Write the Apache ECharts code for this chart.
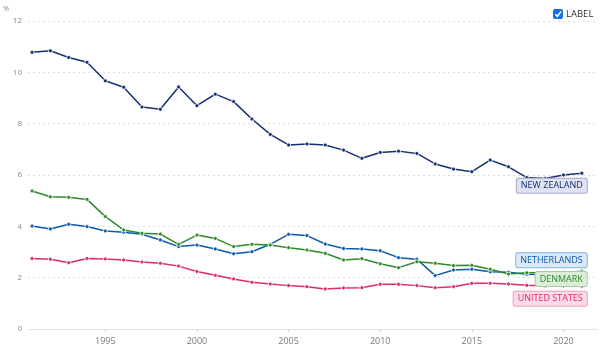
<!DOCTYPE html>
<html>
<head>
<meta charset="utf-8">
<script src="https://cdn.jsdelivr.net/npm/echarts@6/dist/echarts.min.js"></script>
<style>html,body{margin:0;padding:0;background:#fff}#c{width:600px;height:356px}</style>
</head>
<body>
<div id="c"></div>
<script>
const years = [1991,1992,1993,1994,1995,1996,1997,1998,1999,2000,2001,2002,2003,2004,2005,2006,2007,2008,2009,2010,2011,2012,2013,2014,2015,2016,2017,2018,2019,2020,2021];
const newZealand = [10.78,10.84,10.58,10.39,9.67,9.42,8.65,8.56,9.43,8.70,9.15,8.86,8.18,7.58,7.17,7.21,7.17,6.97,6.65,6.88,6.93,6.84,6.43,6.23,6.13,6.58,6.32,5.90,5.86,6.00,6.07];
const netherlands = [4.01,3.90,4.08,3.99,3.82,3.77,3.69,3.47,3.21,3.27,3.12,2.93,3.01,3.30,3.69,3.64,3.31,3.14,3.12,3.05,2.78,2.72,2.08,2.30,2.33,2.23,2.21,2.13,2.12,2.15,2.26];
const denmark = [5.38,5.15,5.13,5.05,4.38,3.86,3.73,3.70,3.30,3.66,3.53,3.21,3.30,3.27,3.17,3.08,2.95,2.69,2.74,2.54,2.39,2.62,2.56,2.47,2.48,2.33,2.14,2.19,2.20,2.20,2.22];
const unitedStates = [2.75,2.72,2.58,2.75,2.73,2.69,2.61,2.56,2.45,2.24,2.09,1.95,1.82,1.75,1.69,1.65,1.56,1.60,1.61,1.74,1.74,1.69,1.61,1.65,1.78,1.78,1.75,1.70,1.68,1.68,1.67];
const xTicks = [1995,2000,2005,2010,2015,2020];
const seriesNames = ['NEW ZEALAND','NETHERLANDS','DENMARK','UNITED STATES'];

const FONT = 'Open Sans';
const chart = echarts.init(document.getElementById('c'), null, {renderer:'canvas'});

function mk(name, vals, color, bg, border, offY) {
  return {
    type: 'line', name: name,
    data: years.map((y, i) => [y, vals[i]]),
    symbol: 'circle', symbolSize: 4, showSymbol: true,
    itemStyle: { color: color, borderColor: '#fff', borderWidth: 0.8 },
    lineStyle: { color: color, width: 1.5 },
    emphasis: { disabled: true },
    endLabel: {
      show: true, formatter: name, position: 'right', distance: 0,
      align: 'right', verticalAlign: 'middle', offset: [5, offY],
      fontFamily: FONT, fontSize: 9, color: color,
      backgroundColor: bg, borderColor: border, borderWidth: 1, borderRadius: 2,
      padding: [3, 4, 2, 4]
    }
  };
}

chart.setOption({
  animation: false,
  textStyle: { fontFamily: FONT },
  grid: { left: 28, right: 3, top: 21, bottom: 27 },
  xAxis: {
    type: 'value', min: 1990.78, max: 2021.83,
    axisLine: { show: true, lineStyle: { color: '#dfe3e6', width: 1 } },
    axisTick: { show: true, customValues: xTicks, length: 3, lineStyle: { color: '#cfd4d8' } },
    axisLabel: { customValues: xTicks, formatter: v => String(v), color: '#7a7a7a', fontSize: 9, margin: 8, fontFamily: FONT },
    splitLine: { show: false }
  },
  yAxis: {
    type: 'value', min: 0, max: 12, interval: 2,
    name: '%', nameLocation: 'end', nameGap: 9,
    nameTextStyle: { color: '#888', fontSize: 7, align: 'right', padding: [0, 19, 0, 0] },
    axisLine: { show: false }, axisTick: { show: false },
    axisLabel: { color: '#8a8a8a', fontSize: 8, margin: 6, fontFamily: FONT },
    splitLine: { show: true, lineStyle: { color: '#dedede', type: [2, 3], width: 1 } }
  },
  series: [
    mk(seriesNames[0], newZealand, '#14306f', '#e0e2f0', '#a3a9d0', 12.5),
    mk(seriesNames[1], netherlands, '#0c5aa8', '#d9e9f6', '#85b4df', -10.7),
    mk(seriesNames[2], denmark, '#2d8a2d', '#ddeed8', '#a3d09a', 7),
    mk(seriesNames[3], unitedStates, '#dc2a6e', '#fbdbe7', '#f29dbe', 12.7)
  ],
  graphic: [
    { type: 'rect', shape: { x: 553, y: 9, width: 10, height: 10, r: 2 }, style: { fill: '#1a6fe0' } },
    { type: 'polyline', shape: { points: [[555.3, 14.2], [557.4, 16.4], [561, 11.4]] }, style: { stroke: '#fff', lineWidth: 1.6, fill: null } },
    { type: 'text', x: 566, y: 14, style: { text: 'LABEL', fontSize: 9.5, fontFamily: FONT, fill: '#333', verticalAlign: 'middle' } }
  ]
});
</script>
</body>
</html>
